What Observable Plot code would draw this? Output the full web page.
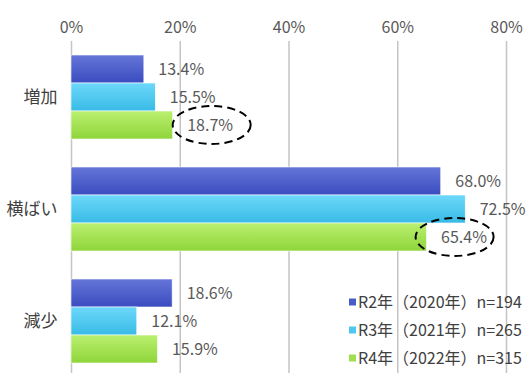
<!DOCTYPE html>
<html><head><meta charset="utf-8">
<script src="https://cdn.jsdelivr.net/npm/d3@7"></script>
<script src="https://cdn.jsdelivr.net/npm/@observablehq/plot@0.6"></script>
<style>body{margin:0;background:#fff}</style>
</head><body><div id="chart"></div>
<script>
const categories = ["増加", "横ばい", "減少"];
const seriesNames = ["R2年（2020年）n=194", "R3年（2021年）n=265", "R4年（2022年）n=315"];
const valuesR2 = [13.4, 68.0, 18.6];
const valuesR3 = [15.5, 72.5, 12.1];
const valuesR4 = [18.7, 65.4, 15.9];
const xTicks = [0, 20, 40, 60, 80];
const circled = [{category: "増加", series: 2}, {category: "横ばい", series: 2}];

// styling
const gradients = [["#6575d8", "#3a4cbf"], ["#6cd8fa", "#38bbe6"], ["#baf070", "#8fd53a"]];
const legendColors = ["#4a5cc8", "#4ec8f0", "#a0e050"];
const ellipseShift = [39, 28];
const font = "'Noto Sans CJK JP', 'Noto Sans', sans-serif";

const seriesValues = [valuesR2, valuesR3, valuesR4];
const key = (c, s) => c + "|" + s;
const rows = categories.flatMap((c, i) => seriesNames.map((s, j) => ({category: c, series: s, si: j, value: seriesValues[j][i], key: key(c, s)})));
const yDomain = [];
categories.forEach((c, i) => { if (i > 0) yDomain.push("gap" + i); seriesNames.forEach(s => yDomain.push(key(c, s))); });

const chart = Plot.plot({
  width: 528, height: 373, marginTop: 41, marginLeft: 71, marginRight: 22, marginBottom: 0,
  style: {fontFamily: font, fontSize: "16px", background: "#fff", color: "#595959"},
  x: {domain: [0, 80], axis: "top", ticks: xTicks, tickFormat: d => d + "%", tickSize: 0, tickPadding: 9, label: null},
  y: {domain: yDomain, range: [41, 377], paddingInner: 0, paddingOuter: 0.5,
      ticks: categories.map(c => key(c, seriesNames[1])), tickFormat: k => k.split("|")[0],
      tickSize: 0, tickPadding: 14, label: null},
  marks: [
    Plot.ruleX(xTicks, {stroke: "#c4c4c4", strokeWidth: 1.5}),
    ...seriesNames.map((s, j) => Plot.barX(rows.filter(r => r.si === j), {x: "value", y: "key", fill: `url(#grad${j})`, stroke: "#ffffff", strokeWidth: 0.6})),
    Plot.text(rows, {x: "value", y: "key", text: d => d.value.toFixed(1) + "%", textAnchor: "start", dx: 14, fill: "#595959", fontSize: 16})
  ]
});
document.getElementById("chart").appendChild(chart);

const svg = d3.select(chart);
svg.selectAll("[aria-label='y-axis tick label'] text, g[aria-label='y-axis'] text").style("font-size", "17px").attr("fill", "#404040");
const defs = svg.insert("defs", ":first-child");
gradients.forEach((g, j) => {
  const lg = defs.append("linearGradient").attr("id", "grad" + j).attr("x1", 0).attr("y1", 0).attr("x2", 0).attr("y2", 1);
  lg.append("stop").attr("offset", "0%").attr("stop-color", g[0]);
  lg.append("stop").attr("offset", "100%").attr("stop-color", g[1]);
});

const xs = chart.scale("x"), ys = chart.scale("y");
circled.forEach((a, i) => {
  const ci = categories.indexOf(a.category);
  const v = seriesValues[a.series][ci];
  const k = key(a.category, seriesNames[a.series]);
  svg.append("ellipse")
    .attr("cx", xs.apply(v) + ellipseShift[i])
    .attr("cy", ys.apply(k) + ys.bandwidth / 2)
    .attr("rx", 39).attr("ry", 19)
    .attr("fill", "none").attr("stroke", "#000").attr("stroke-width", 2)
    .attr("stroke-dasharray", "8,5");
});

const legend = svg.append("g").attr("transform", "translate(349,302)")
  .style("font-family", font).style("font-size", "16px").attr("text-anchor", "start");
seriesNames.forEach((s, j) => {
  const g = legend.append("g").attr("transform", `translate(0,${j * 28})`);
  g.append("rect").attr("x", 0).attr("y", -3.5).attr("width", 7).attr("height", 7).attr("fill", legendColors[j]);
  g.append("text").attr("x", 9).attr("y", 0).attr("dy", "0.35em").attr("text-anchor", "start").attr("fill", "#404040").text(s);
});
</script>
</body></html>
